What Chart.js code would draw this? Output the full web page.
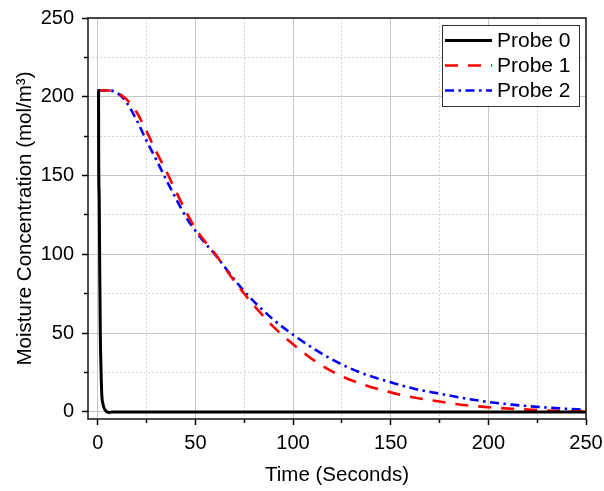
<!DOCTYPE html>
<html>
<head>
<meta charset="utf-8">
<script src="https://cdn.jsdelivr.net/npm/chart.js@4/dist/chart.umd.min.js"></script>
<style>
  html, body { margin: 0; padding: 0; background: #fff; }
  #wrap { width: 604px; height: 491px; }
</style>
</head>
<body>
<div id="wrap"><canvas id="chart" width="604" height="491"></canvas></div>
<script>
// Probe readings (time in seconds, mol/m3)
const probe0Time = [0, 0.4, 0.45, 0.75, 1.0, 1.3, 1.7, 2.1, 2.6, 3.0, 3.6, 4.7, 6, 7.2, 250];
const probe0Conc = [204, 204, 166, 135, 90, 50, 25, 10, 5.5, 3.4, 1.5, 0, -0.3, 0, 0];

const probe1Time = [0, 8, 10, 12, 15, 20, 25, 30, 35, 40, 45, 50, 55, 60, 65, 70, 75, 80, 90, 100, 112, 125, 137, 150, 162, 175, 187, 200, 212, 225, 237, 250];
const probe1Conc = [204, 204, 203, 201, 198, 190, 178, 165, 153, 140, 127.5, 116.5, 108, 100.5, 91.5, 83, 75, 67.5, 54, 43, 31.6, 22.6, 17, 12.4, 9.1, 6.6, 4.4, 3, 2, 1.2, 0.6, 0.2];

const probe2Time = [0, 6, 9, 12, 15, 20, 25, 30, 35, 40, 45, 50, 55, 60, 65, 70, 75, 80, 90, 100, 112, 125, 137, 150, 162, 175, 187, 200, 212, 225, 237, 250];
const probe2Conc = [204, 204, 203, 200.5, 196, 185, 172, 160, 147.5, 135.5, 124, 115, 107, 100, 92, 84, 76.5, 70, 58.5, 49, 39, 30.1, 23.8, 18.8, 14.7, 11.6, 8.8, 6.3, 4.6, 3.2, 2.2, 1.3];

const seriesLabels = ['Probe 0', 'Probe 1', 'Probe 2'];

// Axis ranges and tick positions (labels only on the 50s)
const xMin = -5, xMax = 250;
const yMin = -4.5, yMax = 250;
const xTickValues = [0, 25, 50, 75, 100, 125, 150, 175, 200, 225, 250];
const yTickValues = [0, 25, 50, 75, 100, 125, 150, 175, 200, 225, 250];

const FONT = "'Liberation Sans', Arial, Helvetica, sans-serif";
const MAJOR_GRID = '#c6c6c6';
const MINOR_GRID = '#d2d2d2';

Chart.defaults.font.family = FONT;
Chart.defaults.color = '#000';

const isMajor = v => v % 50 === 0;
const toPoints = (xs, ys) => xs.map((x, i) => ({ x: x, y: ys[i] }));

// pin the axis box sizes so the plot area lands where the reference has it
const fitHeight = h => s => {
  s.height = h;
  s.paddingLeft = 0; s.paddingRight = 0; s.paddingTop = 0; s.paddingBottom = 0;
};
const fitWidth = w => s => {
  s.width = w;
  s.paddingLeft = 0; s.paddingRight = 0; s.paddingTop = 0; s.paddingBottom = 0;
};

// frame round the plot area (top and right spines included)
const frame = {
  id: 'frame',
  afterDatasetsDraw(chart) {
    const { ctx, chartArea: a } = chart;
    ctx.save();
    ctx.strokeStyle = '#222';
    ctx.lineWidth = 1.6;
    ctx.strokeRect(a.left, a.top, a.right - a.left, a.bottom - a.top);
    ctx.restore();
  }
};

// boxed legend in the upper right, with the real dash patterns
const boxLegend = {
  id: 'boxLegend',
  afterDraw(chart) {
    const { ctx, chartArea: a } = chart;
    const w = 137, h = 81;
    const x0 = a.right - w - 7, y0 = a.top + 7;
    ctx.save();
    ctx.fillStyle = '#fff';
    ctx.fillRect(x0, y0, w, h);
    ctx.strokeStyle = '#333';
    ctx.lineWidth = 1;
    ctx.strokeRect(x0 + 0.5, y0 + 0.5, w, h);
    ctx.font = '21px ' + FONT;
    ctx.textBaseline = 'middle';
    chart.data.datasets.forEach((ds, i) => {
      const cy = y0 + 15.5 + i * 25;
      ctx.beginPath();
      ctx.setLineDash(ds.borderDash || []);
      ctx.strokeStyle = ds.borderColor;
      ctx.lineWidth = ds.borderWidth;
      ctx.moveTo(x0 + 3, cy);
      ctx.lineTo(x0 + 50, cy);
      ctx.stroke();
      ctx.setLineDash([]);
      ctx.fillStyle = '#000';
      ctx.fillText(ds.label, x0 + 55, cy + 1);
    });
    ctx.restore();
  }
};

function mainAxis(values, fitFn, pad) {
  return {
    afterBuildTicks: s => { s.ticks = values.map(v => ({ value: v })); },
    afterFit: fitFn,
    ticks: {
      autoSkip: false,
      maxRotation: 0,
      padding: pad,
      color: '#000',
      font: { size: 20 },
      callback: v => isMajor(v) ? String(v) : ''
    },
    grid: {
      color: c => (c.tick && isMajor(c.tick.value)) ? MAJOR_GRID : MINOR_GRID,
      lineWidth: 1,
      tickLength: 6,
      tickWidth: 1.5,
      tickColor: c => (c.tick && isMajor(c.tick.value)) ? '#000' : 'rgba(0,0,0,0)'
    },
    border: {
      display: false,
      dash: c => (c.tick && !isMajor(c.tick.value)) ? [2, 2] : []
    }
  };
}

function minorAxis(values, fitFn) {
  return {
    afterBuildTicks: s => { s.ticks = values.filter(v => !isMajor(v)).map(v => ({ value: v })); },
    afterFit: fitFn,
    ticks: { display: false },
    grid: { drawOnChartArea: false, tickLength: 4, tickWidth: 1.5, tickColor: '#000' },
    border: { display: false }
  };
}

const ctx = document.getElementById('chart').getContext('2d');

new Chart(ctx, {
  type: 'line',
  data: {
    datasets: [
      {
        label: seriesLabels[0],
        data: toPoints(probe0Time, probe0Conc),
        borderColor: '#000000',
        borderWidth: 3,
        pointRadius: 0,
        cubicInterpolationMode: 'monotone',
        fill: false
      },
      {
        label: seriesLabels[1],
        data: toPoints(probe1Time, probe1Conc),
        borderColor: '#ff0000',
        borderWidth: 2.6,
        borderDash: [13, 10],
        pointRadius: 0,
        cubicInterpolationMode: 'monotone',
        fill: false
      },
      {
        label: seriesLabels[2],
        data: toPoints(probe2Time, probe2Conc),
        borderColor: '#0000ff',
        borderWidth: 2.6,
        borderDash: [9, 4.5, 2.5, 4.5],
        pointRadius: 0,
        cubicInterpolationMode: 'monotone',
        fill: false
      }
    ]
  },
  options: {
    responsive: false,
    animation: false,
    devicePixelRatio: 1,
    layout: { padding: { left: 0, right: 18, top: 18, bottom: 0 } },
    plugins: {
      legend: { display: false },
      tooltip: { enabled: false }
    },
    scales: {
      x: Object.assign(mainAxis(xTickValues, fitHeight(72), 6), {
        type: 'linear', position: 'bottom', weight: 1, min: xMin, max: xMax,
        title: {
          display: true,
          text: 'Time (Seconds)',
          color: '#000',
          font: { size: 20.5 },
          padding: { top: 0, bottom: 3 }
        }
      }),
      xMinor: Object.assign(minorAxis(xTickValues, fitHeight(0)), {
        type: 'linear', axis: 'x', position: 'bottom', weight: 0, min: xMin, max: xMax
      }),
      y: Object.assign(mainAxis(yTickValues, fitWidth(88), 8), {
        type: 'linear', position: 'left', weight: 1, min: yMin, max: yMax,
        title: {
          display: true,
          text: 'Moisture Concentration (mol/m³)',
          color: '#000',
          font: { size: 20.5 },
          padding: { top: 13, bottom: 0 }
        }
      }),
      yMinor: Object.assign(minorAxis(yTickValues, fitWidth(0)), {
        type: 'linear', axis: 'y', position: 'left', weight: 0, min: yMin, max: yMax
      })
    }
  },
  plugins: [frame, boxLegend]
});
</script>
</body>
</html>
